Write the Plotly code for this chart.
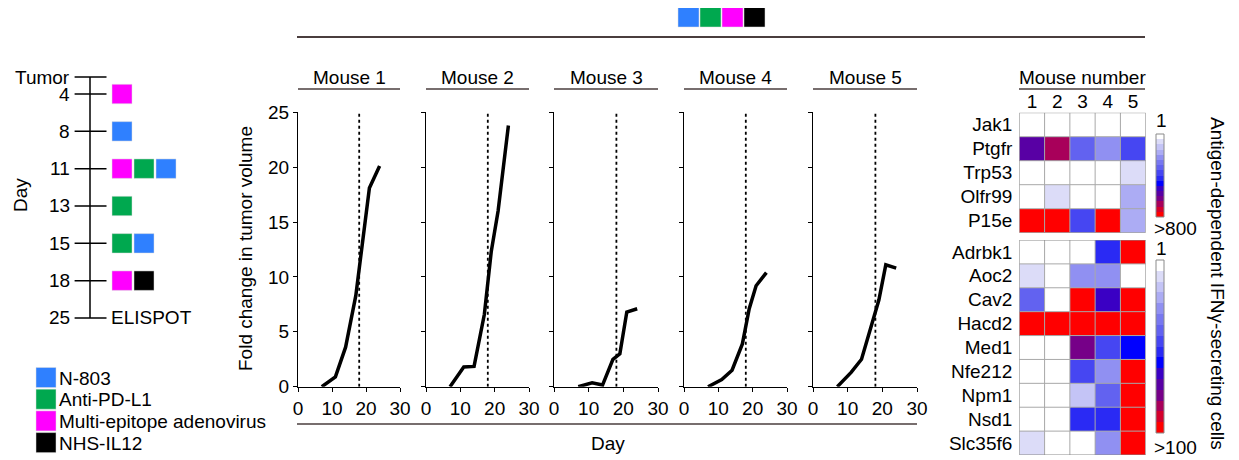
import plotly.graph_objects as go

W, H = 1239, 460
OFF = 8  # default page body margin that the figure sits inside
FONT = "Liberation Sans, Arial, Helvetica, sans-serif"
FS = 19

# ---------------- data ----------------
mouse_names = ["Mouse 1", "Mouse 2", "Mouse 3", "Mouse 4", "Mouse 5"]
m1_day = [7, 11, 14, 17, 21, 24]
m1_fold = [0, 0.9, 3.6, 8.3, 18.1, 20.1]
m2_day = [7, 11, 14, 17, 19, 21, 24]
m2_fold = [0, 1.8, 1.85, 6.6, 12.3, 16.0, 23.8]
m3_day = [7, 11, 14, 17, 19, 21, 24]
m3_fold = [0, 0.35, 0.15, 2.5, 3.0, 6.8, 7.1]
m4_day = [7, 11, 14, 17, 19, 21, 24]
m4_fold = [0, 0.65, 1.5, 3.9, 7.1, 9.2, 10.4]
m5_day = [7, 11, 14, 19, 21, 24]
m5_fold = [0, 1.3, 2.5, 7.9, 11.1, 10.8]
elispot_day = 18
x_ticks = [0, 10, 20, 30]
y_ticks = [0, 5, 10, 15, 20, 25]

treatment_names = ["N-803", "Anti-PD-L1", "Multi-epitope adenovirus", "NHS-IL12"]
treatment_colors = ["#2f80ff", "#00a84f", "#ff00ff", "#000000"]
timeline_labels = ["4", "8", "11", "13", "15", "18", "25"]
timeline_schedule = [[2], [0], [2, 1, 0], [1], [1, 0], [2, 3], []]

mouse_numbers = [1, 2, 3, 4, 5]
genes_top = ["Jak1", "Ptgfr", "Trp53", "Olfr99", "P15e"]
vals_top = [
    [1, 1, 1, 1, 1],
    [575, 675, 326, 226, 376],
    [1, 1, 1, 1, 76],
    [1, 76, 1, 1, 176],
    [900, 900, 376, 900, 176],
]
genes_bottom = ["Adrbk1", "Aoc2", "Cav2", "Hacd2", "Med1", "Nfe212", "Npm1", "Nsd1", "Slc35f6"]
vals_bottom = [
    [1, 1, 1, 54, 120],
    [10, 1, 29, 29, 1],
    [41, 1, 120, 66, 120],
    [120, 120, 120, 120, 120],
    [1, 1, 78, 47, 60],
    [1, 1, 47, 29, 120],
    [1, 1, 16, 41, 120],
    [1, 1, 54, 54, 120],
    [10, 1, 1, 29, 120],
]
band_colors = ["#ffffff", "#dcdcf8", "#c4c4f6", "#acacf4", "#9090f2", "#7878f0",
               "#6262f0", "#4646f2", "#2a2af4", "#0000ff", "#3a00c4", "#5800a4",
               "#760088", "#a8005a", "#d4002c", "#ff0000"]

# ---------------- helpers (page pixel -> paper fraction) ----------------
def px(p):
    return (p - OFF) / W

def py(p):
    return 1 - (p - OFF) / H

def dx(a, b):
    return [px(a), px(b)]

def dy(top, bottom):
    return [py(bottom), py(top)]

def note(text, x, y, xanchor="center", yanchor="middle", xref="paper", yref="paper", **kw):
    return dict(text=text, x=x, y=y, xref=xref, yref=yref, xanchor=xanchor,
                yanchor=yanchor, showarrow=False, **kw)

n = len(band_colors)
cscale = []
for i, c in enumerate(band_colors):
    cscale.append([i / n, c])
    cscale.append([(i + 1) / n, c])

fig = go.Figure()
layout = dict(
    width=W, height=H, margin=dict(l=0, r=0, t=0, b=0, pad=0, autoexpand=False),
    paper_bgcolor="white", plot_bgcolor="white", showlegend=False,
    font=dict(family=FONT, size=FS, color="black"),
)
shapes = []
annotations = []
LINEC = "#4a3e3e"

# ---------------- growth panels ----------------
panel_x = [(298, 400), (426, 529), (554, 658), (684, 787), (813, 917)]
ptop, pbot = 112.3, 386.7
days = [m1_day, m2_day, m3_day, m4_day, m5_day]
folds = [m1_fold, m2_fold, m3_fold, m4_fold, m5_fold]
for i in range(5):
    k = i + 1
    xa, ya = f"x{k}", f"y{k}"
    fig.add_trace(go.Scatter(x=[elispot_day, elispot_day], y=[0, 25], mode="lines",
                             line=dict(color="black", width=1.8, dash="dot"),
                             xaxis=xa, yaxis=ya, hoverinfo="skip"))
    fig.add_trace(go.Scatter(x=days[i], y=folds[i], mode="lines",
                             line=dict(color="black", width=3.5),
                             xaxis=xa, yaxis=ya))
    layout[f"xaxis{k}"] = dict(domain=dx(*panel_x[i]), range=[0, 30], tickvals=x_ticks,
                               ticks="outside", ticklen=4, tickcolor="black",
                               showline=True, linecolor="black", linewidth=1,
                               showgrid=False, zeroline=False, anchor=ya, automargin=False,
                               tickfont=dict(size=FS))
    layout[f"yaxis{k}"] = dict(domain=dy(ptop, pbot), range=[0, 25], tickvals=y_ticks,
                               ticks="outside", ticklen=4, tickcolor="black",
                               showline=True, linecolor="black", linewidth=1,
                               showgrid=False, zeroline=False, anchor=xa, automargin=False,
                               showticklabels=(i == 0), tickfont=dict(size=FS))
    annotations.append(note(mouse_names[i], px((panel_x[i][0] + panel_x[i][1]) / 2), py(77)))
    shapes.append(dict(type="line", xref="paper", yref="paper",
                       x0=px(panel_x[i][0]), x1=px(panel_x[i][1]), y0=py(89), y1=py(89),
                       line=dict(color=LINEC, width=1.5)))

annotations.append(note("Fold change in tumor volume", px(245), py(249), textangle=-90))
annotations.append(note("Day", px(608), py(443)))
shapes.append(dict(type="line", xref="paper", yref="paper", x0=px(297), x1=px(917),
                   y0=py(424), y1=py(424), line=dict(color=LINEC, width=1.5)))
shapes.append(dict(type="line", xref="paper", yref="paper", x0=px(297), x1=px(1145),
                   y0=py(37), y1=py(37), line=dict(color=LINEC, width=2)))
# top treatment combination squares
for j, c in enumerate(treatment_colors):
    x0 = 678 + j * 22
    shapes.append(dict(type="rect", xref="paper", yref="paper", x0=px(x0), x1=px(x0 + 21),
                       y0=py(27), y1=py(7), fillcolor=c, line=dict(width=0.5, color="#dddddd")))

# ---------------- heatmaps ----------------
hx = (1019.3, 1145.7)
def add_heat(k, genes, vals, zmax, top, bottom, show_cols):
    xa, ya = f"x{k}", f"y{k}"
    rows = list(range(len(genes)))
    fig.add_trace(go.Heatmap(z=vals, x=mouse_numbers, y=rows, zmin=1, zmax=zmax,
                             colorscale=cscale, showscale=False, xaxis=xa, yaxis=ya))
    layout[f"xaxis{k}"] = dict(domain=dx(*hx), range=[0.5, 5.5], tickvals=mouse_numbers,
                               side="top", ticks="", showticklabels=show_cols,
                               showgrid=False, zeroline=False, showline=False, anchor=ya,
                               automargin=False, tickfont=dict(size=FS))
    layout[f"yaxis{k}"] = dict(domain=dy(top, bottom), range=[len(genes) - 0.5, -0.5],
                               tickvals=rows, ticktext=genes, ticks="",
                               showgrid=False, zeroline=False, showline=False, anchor=xa,
                               automargin=False, ticklabelstandoff=6, tickfont=dict(size=FS))
    for b in range(1, 5):
        shapes.append(dict(type="line", xref=xa, yref=ya, x0=b + 0.5, x1=b + 0.5,
                           y0=-0.5, y1=len(genes) - 0.5, line=dict(color="#a8a8a8", width=1)))
    for r in range(1, len(genes)):
        shapes.append(dict(type="line", xref=xa, yref=ya, x0=0.5, x1=5.5,
                           y0=r - 0.5, y1=r - 0.5, line=dict(color="#a8a8a8", width=1)))
    shapes.append(dict(type="rect", xref=xa, yref=ya, x0=0.5, x1=5.5, y0=-0.5,
                       y1=len(genes) - 0.5, line=dict(color="#8a8a8a", width=1)))

add_heat(6, genes_top, vals_top, 800, 112.7, 232.7, True)
add_heat(7, genes_bottom, vals_bottom, 100, 240, 455, False)

annotations.append(note("Mouse number", px(1082), py(77)))
shapes.append(dict(type="line", xref="paper", yref="paper", x0=px(1019), x1=px(1145),
                   y0=py(89), y1=py(89), line=dict(color=LINEC, width=1.5)))

# colour keys
levels = list(range(n))
def add_key(k, top, bottom, lab_top, lab_bot, ytop_lab, ybot_lab):
    xa, ya = f"x{k}", f"y{k}"
    fig.add_trace(go.Heatmap(z=[[lv] for lv in levels], x=[0], y=levels,
                             zmin=-0.5, zmax=n - 0.5, colorscale=cscale, showscale=False,
                             xaxis=xa, yaxis=ya))
    layout[f"xaxis{k}"] = dict(domain=dx(1156, 1164), range=[-0.5, 0.5], visible=False,
                               anchor=ya, automargin=False)
    layout[f"yaxis{k}"] = dict(domain=dy(top, bottom), range=[n - 0.5, -0.5], visible=False,
                               anchor=xa, automargin=False)
    shapes.append(dict(type="rect", xref="paper", yref="paper", x0=px(1156), x1=px(1164),
                       y0=py(bottom), y1=py(top), line=dict(color="#8a8a8a", width=1)))
    annotations.append(note(lab_top, px(1154), py(ytop_lab), xanchor="left"))
    annotations.append(note(lab_bot, px(1152), py(ybot_lab), xanchor="left"))

add_key(8, 134, 217, "1", ">800", 120, 228)
add_key(9, 260, 433, "1", ">100", 248, 447)
annotations.append(note("Antigen-dependent IFNγ-secreting cells", px(1218), py(283), textangle=90))

# ---------------- timeline ----------------
xa, ya = "x10", "y10"
layout["xaxis10"] = dict(domain=dx(68, 200), range=[-2, 4], visible=False, anchor=ya,
                         automargin=False)
layout["yaxis10"] = dict(domain=dy(70, 325), range=[6.188, -0.643], visible=False, anchor=xa,
                         automargin=False)
tumor_row = -0.455
rows_t = list(range(len(timeline_labels)))
fig.add_trace(go.Scatter(x=[-1, -1], y=[tumor_row, rows_t[-1]], mode="lines",
                         line=dict(color="black", width=1.5), xaxis=xa, yaxis=ya))
for r in [tumor_row] + rows_t:
    fig.add_trace(go.Scatter(x=[-1.7, -0.25], y=[r, r], mode="lines",
                             line=dict(color="black", width=1.5), xaxis=xa, yaxis=ya))
annotations.append(note("Tumor", -1.8, tumor_row, xanchor="right", xref=xa, yref=ya))
for r, lab in zip(rows_t, timeline_labels):
    annotations.append(note(lab, -1.8, r, xanchor="right", xref=xa, yref=ya))
    for slot, t in enumerate(timeline_schedule[r]):
        shapes.append(dict(type="rect", xref=xa, yref=ya, x0=slot, x1=slot + 0.91,
                           y0=r - 0.26, y1=r + 0.26, fillcolor=treatment_colors[t],
                           line=dict(width=0.5, color="#dddddd")))
annotations.append(note("ELISPOT", -0.15, rows_t[-1], xanchor="left", xref=xa, yref=ya))
annotations.append(note("Day", px(20), py(195), textangle=-90))

# bottom-left legend
for j, (name, c) in enumerate(zip(treatment_names, treatment_colors)):
    top = 367.5 + j * 21.7
    shapes.append(dict(type="rect", xref="paper", yref="paper", x0=px(36), x1=px(56),
                       y0=py(top + 20), y1=py(top), fillcolor=c,
                       line=dict(width=0.5, color="#dddddd")))
    annotations.append(note(name, px(57), py(top + 10.5), xanchor="left"))

layout["shapes"] = shapes
layout["annotations"] = annotations
fig.update_layout(**layout)
fig.write_html("out.html")
